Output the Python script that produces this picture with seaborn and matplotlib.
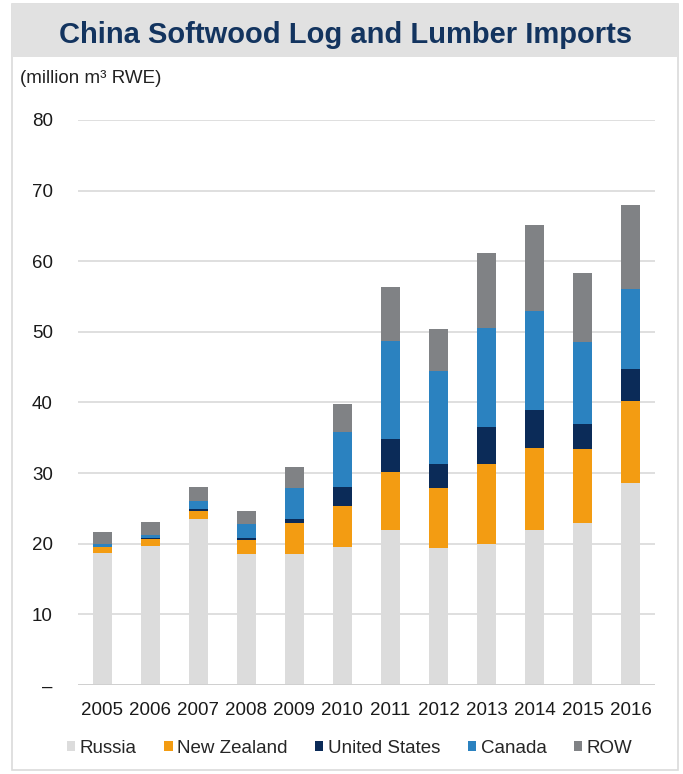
import numpy as np
import pandas as pd
import seaborn as sns
import matplotlib
import matplotlib.pyplot as plt
from matplotlib.patches import Patch, Rectangle

matplotlib.use("Agg")

years = [str(y) for y in range(2005, 2017)]
russia = [18.7, 19.7, 23.5, 18.6, 18.5, 19.5, 22.0, 19.4, 20.0, 22.0, 23.0, 28.6]
new_zealand = [0.8, 1.0, 1.2, 1.9, 4.4, 5.9, 8.2, 8.5, 11.3, 11.5, 10.4, 11.6]
united_states = [0.1, 0.1, 0.2, 0.3, 0.6, 2.6, 4.7, 3.4, 5.2, 5.5, 3.5, 4.5]
canada = [0.4, 0.5, 1.1, 2.0, 4.4, 7.8, 13.8, 13.2, 14.1, 14.0, 11.6, 11.4]
row = [1.6, 1.8, 2.0, 1.8, 2.9, 4.0, 7.6, 5.9, 10.5, 12.1, 9.9, 11.9]

series = ["Russia", "New Zealand", "United States", "Canada", "ROW"]
colors = ["#dcdcdc", "#f39c12", "#0b2b58", "#2b82c0", "#808285"]
yticks = [0, 10, 20, 30, 40, 50, 60, 70, 80]
ytick_labels = ["–", "10", "20", "30", "40", "50", "60", "70", "80"]

df = pd.DataFrame({"Year": years, "Russia": russia, "New Zealand": new_zealand,
                   "United States": united_states, "Canada": canada, "ROW": row})
cum = df[series].cumsum(axis=1)
cum["Year"] = df["Year"]

sns.set_style("white")
plt.rcParams["font.family"] = ["Liberation Sans", "DejaVu Sans"]

fig = plt.figure(figsize=(6.83, 7.74), dpi=100)
# frame and title band
fig.patches.append(Rectangle((0.0176, 0.005), 0.975, 0.99, transform=fig.transFigure,
                             facecolor="none", edgecolor="#dadada", lw=1.2))
fig.patches.append(Rectangle((0.0176, 0.926), 0.975, 0.069, transform=fig.transFigure,
                             facecolor="#e1e1e1", edgecolor="none"))
fig.text(0.506, 0.955, "China Softwood Log and Lumber Imports", ha="center", va="center",
         fontsize=21, fontweight="bold", color="#13345f")
fig.text(0.029, 0.899, "(million m³ RWE)", ha="left", va="center", fontsize=13.5,
         color="#222222")

ax = fig.add_axes([0.114, 0.115, 0.845, 0.73])
# stacked bars: draw cumulative totals from top layer down
for name, col in reversed(list(zip(series, colors))):
    sns.barplot(data=cum, x="Year", y=name, color=col, width=0.41, ax=ax,
                saturation=1, edgecolor="none", linewidth=0)

ax.set_ylim(0, 80)
ax.set_xlim(-0.51, 11.51)
ax.set_yticks(yticks)
ax.set_yticklabels(ytick_labels)
ax.yaxis.grid(True, color="#d9d9d9", lw=1.2)
ax.set_axisbelow(True)
ax.axhline(0, color="#cfcfcf", lw=2)
sns.despine(ax=ax, left=True, bottom=True)
ax.tick_params(axis="both", length=0, labelsize=13.5, colors="#1a1a1a")
ax.tick_params(axis="y", pad=18)
ax.tick_params(axis="x", pad=12)
ax.set_xlabel("")
ax.set_ylabel("")

handles = [Patch(facecolor=c, edgecolor="none", label=s) for s, c in zip(series, colors)]
fig.legend(handles=handles, loc="center", bbox_to_anchor=(0.512, 0.033), ncol=5,
           frameon=False, fontsize=13.5, handlelength=0.45, handleheight=0.45,
           handletextpad=0.25, columnspacing=1.45)

fig.savefig("out.png", dpi=100)
